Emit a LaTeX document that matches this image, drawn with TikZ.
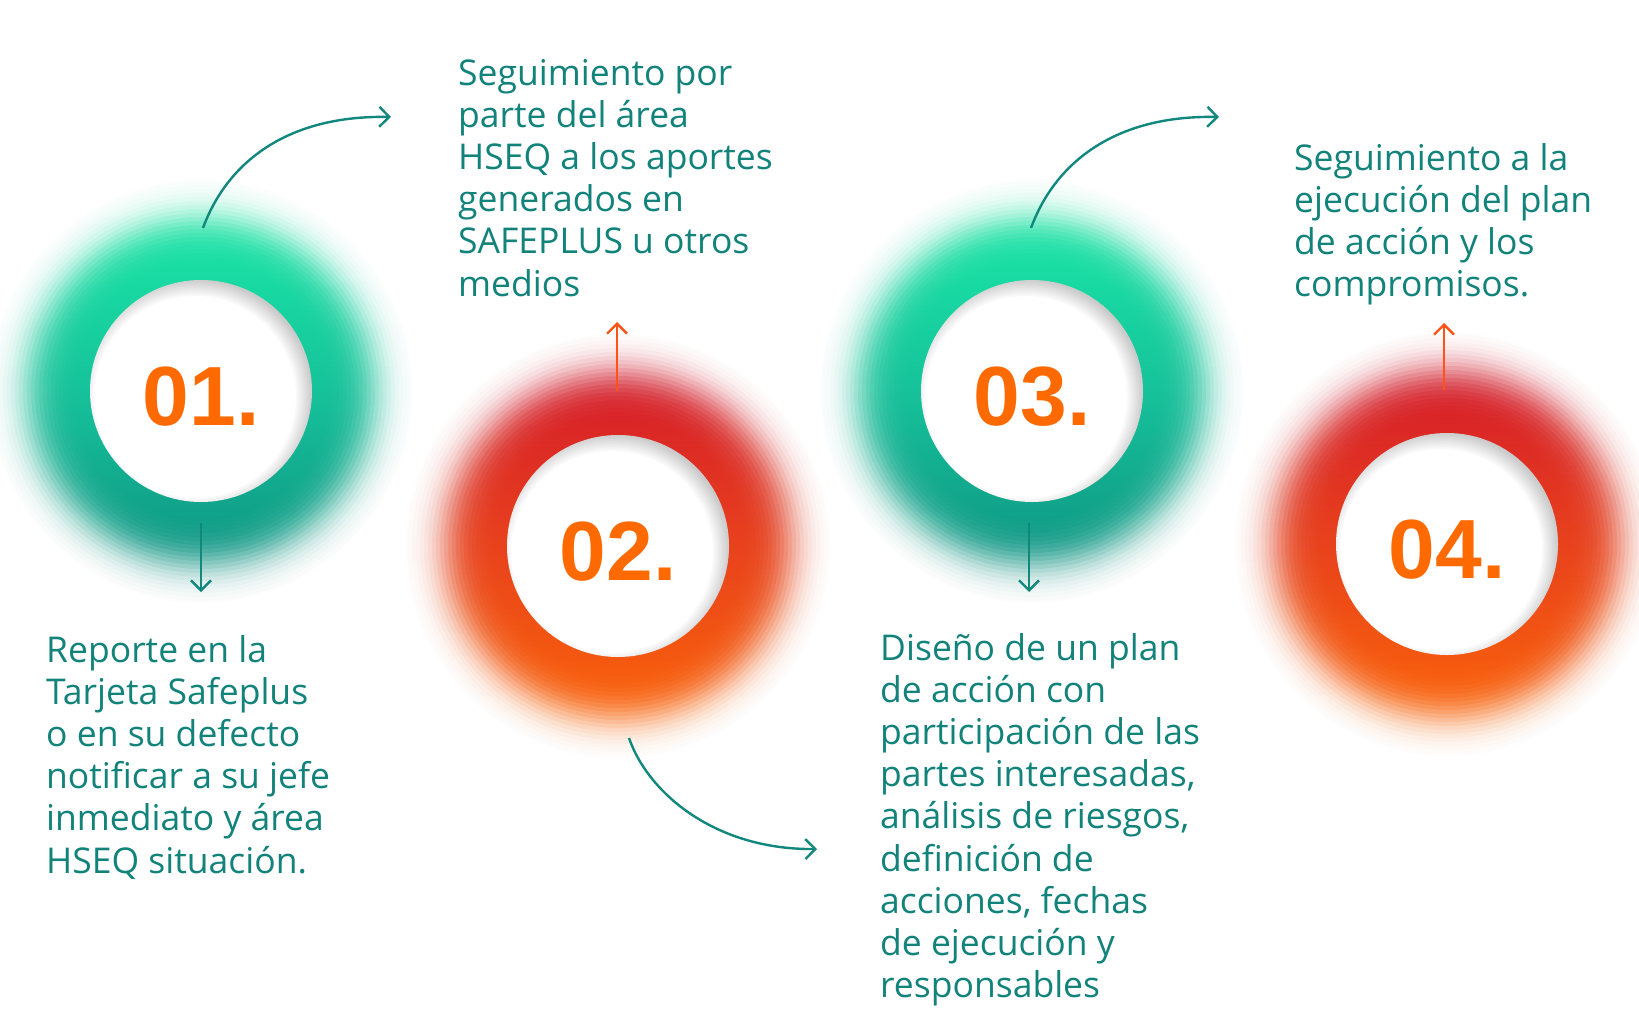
\documentclass[tikz,border=0pt]{standalone}
\usepackage{fontspec}
\setmainfont{Open Sans}
\newfontfamily\numfont{Liberation Sans}
\usetikzlibrary{arrows.meta,calc}

\definecolor{tealtxt}{HTML}{12837A}
\definecolor{tealarr}{HTML}{12877D}
\definecolor{orangenum}{HTML}{FF6A00}
\definecolor{orangearr}{HTML}{FF5214}
\definecolor{gtop}{HTML}{1BF0AA}
\definecolor{gmid}{HTML}{16C29A}
\definecolor{gbot}{HTML}{0C8A7E}
\definecolor{rtop}{HTML}{D0112D}
\definecolor{rmid}{HTML}{E8421D}
\definecolor{rbot}{HTML}{FF6C04}

% soft glow: an opaque shaded disc, washed out towards its rim by stacked white rings
\newcommand\glowdisc[4]{%
  \fill[top color=#2, bottom color=#4, middle color=#3] (#1.center) circle[radius=214pt];
  \pgfmathsetmacro\Lz{1/(1+exp((212-170)/12))}%
  \foreach \r [remember=\r as \rprev (initially 106)] in {110,114,...,210,212} {%
    \pgfmathsetmacro\Ak{max(0,(1/(1+exp((\r-170)/12))-\Lz)/(1-\Lz))}%
    \pgfmathsetmacro\Ap{max(0.0001,(1/(1+exp((\rprev-170)/12))-\Lz)/(1-\Lz))}%
    \pgfmathsetmacro\bk{min(1,max(0,1-\Ak/\Ap))}%
    \fill[white, fill opacity=\bk, even odd rule]
      (#1.center) circle[radius=224pt] (#1.center) circle[radius=\r pt];
  }}

% white disc with a soft inner shadow at the top right
\newcommand\shadowdisc[1]{%
  \fill[white] (#1.center) circle[radius=111pt];
  \begin{scope}
    \clip (#1.center) circle[radius=111pt];
    \foreach \r in {117,115,...,101} {%
      \fill[black, fill opacity=0.022, even odd rule]
        (#1.center) circle[radius=112pt] ($(#1.center)+(-6,6)$) circle[radius=\r pt];
    }
  \end{scope}}

\tikzset{
  disc/.style={circle, minimum size=222pt, inner sep=0pt},
  numtxt/.style={anchor=base, inner sep=0pt, text=orangenum, font=\numfont\bfseries\fontsize{84}{84}\selectfont},
  desc/.style={anchor=base west, inner sep=0pt, text=tealtxt, font=\fontsize{35.5}{42.2}\selectfont},
  tealarrow/.style={draw=tealarr, line width=2.4pt, -{Straight Barb[length=10pt,width=20pt]}},
  orangearrow/.style={draw=orangearr, line width=2.4pt, -{Straight Barb[length=10pt,width=20pt]}},
}

\begin{document}
\begin{tikzpicture}[x=1pt,y=-1pt]
\useasboundingbox (0,0) rectangle (1639,1018);
\clip (0,0) rectangle (1639,1018);
\fill[white] (0,0) rectangle (1639,1018);

% circle positions
\node[disc] (c1) at (201,391) {};
\node[disc] (c2) at (618,546) {};
\node[disc] (c3) at (1032,391) {};
\node[disc] (c4) at (1447,544) {};

% glows
\glowdisc{c1}{gtop}{gmid}{gbot}
\glowdisc{c2}{rtop}{rmid}{rbot}
\glowdisc{c3}{gtop}{gmid}{gbot}
\glowdisc{c4}{rtop}{rmid}{rbot}

% white discs with inner shadow
\shadowdisc{c1}
\shadowdisc{c2}
\shadowdisc{c3}
\shadowdisc{c4}

% numbers
\node[numtxt] (n1) at ($(c1.center)+(0,34)$) {01.};
\node[numtxt] (n2) at ($(c2.center)+(0,34)$) {02.};
\node[numtxt] (n3) at ($(c3.center)+(0,34)$) {03.};
\node[numtxt] (n4) at ($(c4.center)+(0,34)$) {04.};

% texts
\node[desc] (t1) at (46,662) {\vtop{\hbox{Reporte en la}\hbox{Tarjeta Safeplus}\hbox{o en su defecto}\hbox{notificar a su jefe}\hbox{inmediato y área}\hbox{HSEQ situación.}}};
\node[desc] (t2) at (458,85) {\vtop{\hbox{Seguimiento por}\hbox{parte del área}\hbox{HSEQ a los aportes}\hbox{generados en}\hbox{SAFEPLUS u otros}\hbox{medios}}};
\node[desc] (t3) at (880,660) {\vtop{\hbox{Diseño de un plan}\hbox{de acción con}\hbox{participación de las}\hbox{partes interesadas,}\hbox{análisis de riesgos,}\hbox{definición de}\hbox{acciones, fechas}\hbox{de ejecución y}\hbox{responsables}}};
\node[desc] (t4) at (1294,170) {\vtop{\hbox{Seguimiento a la}\hbox{ejecución del plan}\hbox{de acción y los}\hbox{compromisos.}}};

% arrow end points
\coordinate (a1s) at (201,523);
\coordinate (a1e) at (201,592);
\coordinate (b1s) at (203,228);
\coordinate (b1e) at (391,117);
\coordinate (a2s) at (617,391);
\coordinate (a2e) at (617,322);
\coordinate (b2s) at (629,738);
\coordinate (b2e) at (817,849);
\coordinate (b3s) at (1031,228);
\coordinate (b3e) at (1219,117);
\coordinate (a3s) at (1029,523);
\coordinate (a3e) at (1029,592);
\coordinate (a4s) at (1444,390);
\coordinate (a4e) at (1444,323);

\draw[tealarrow] (a1s) -- (a1e);
\draw[tealarrow] (b1s) .. controls ($(b1s)+(25,-68)$) and ($(b1e)+(-101,-2)$) .. (b1e);
\draw[orangearrow] (a2s) -- (a2e);
\draw[tealarrow] (b2s) .. controls ($(b2s)+(19,55)$) and ($(b2e)+(-102,1)$) .. (b2e);
\draw[tealarrow] (b3s) .. controls ($(b3s)+(25,-68)$) and ($(b3e)+(-101,-2)$) .. (b3e);
\draw[tealarrow] (a3s) -- (a3e);
\draw[orangearrow] (a4s) -- (a4e);
\end{tikzpicture}
\end{document}
